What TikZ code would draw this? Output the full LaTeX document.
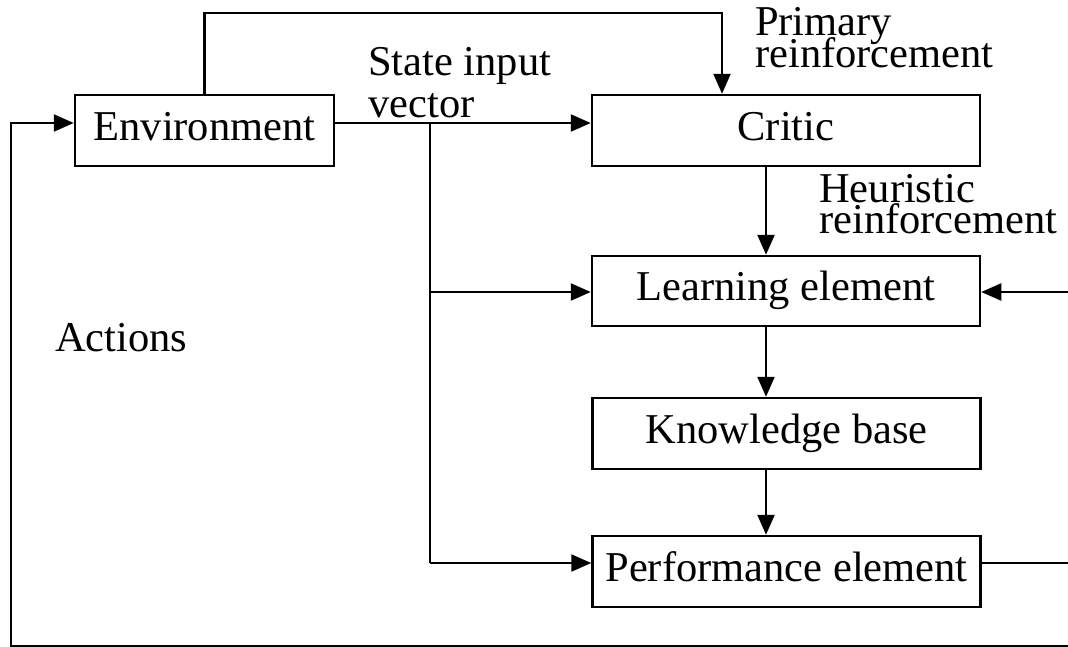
\documentclass[tikz,border=0pt]{standalone}
\usepackage{fontspec}
\setmainfont{Liberation Serif}
\usetikzlibrary{arrows.meta}

% two stacked lines with a fixed baseline distance; the node baseline is the first line
\newcommand\stacklines[3]{\vtop{\baselineskip=#3\lineskiplimit=-\maxdimen\lineskip=0pt\hbox{#1}\hbox{#2}}}

\begin{document}
\begin{tikzpicture}[x=1pt,y=-1pt,
  font=\fontsize{42.5}{51}\selectfont,
  block/.style={draw, line width=2.5pt, minimum width=388pt, minimum height=71pt,
    inner sep=0pt, text height=30pt, text depth=10.5pt},
  flow/.style={line width=2.3pt, -{Triangle[length=20pt,width=17pt]}},
  plain/.style={line width=2.3pt},
  label/.style={inner sep=0pt, anchor=base west}]

\useasboundingbox (0,0) rectangle (1068,646);

% blocks
\node[block, minimum width=259pt] (env)   at (204.5,130.5) {Environment};
\node[block] (critic) at (786,130.5)  {Critic};
\node[block, minimum height=70pt] (learn) at (786,291) {Learning element};
\node[block] (know)   at (786.5,433.5) {Knowledge base};
\node[block] (perf)   at (786.5,571.5) {Performance element};

% routing points
\coordinate (rowA)  at (0,123);
\coordinate (rowB)  at (0,292);
\coordinate (rowC)  at (0,563);
\coordinate (split) at (430,123);
\coordinate (prim)  at (722,13);
\coordinate (hx)    at (766,0);
\coordinate (outR)  at (1090,563);
\coordinate (inR)   at (1090,292);
\coordinate (loopR) at (1090,646);
\coordinate (loopL) at (11,646);

% state input vector
\draw[flow] (env.east |- rowA) -- (critic.west |- rowA);
\draw[plain] (split) -- (split |- rowC);
\draw[flow] (split |- rowB) -- (learn.west |- rowB);
\draw[flow] (split |- rowC) -- (perf.west |- rowC);

% primary reinforcement
\draw[flow] (env.north) |- (prim) -- (prim |- critic.north);

% chain through the learning system
\draw[flow] (critic.south -| hx) -- (learn.north -| hx);
\draw[flow] (learn.south -| hx) -- (know.north -| hx);
\draw[flow] (know.south -| hx) -- (perf.north -| hx);

% external input to the learning element
\draw[flow] (inR) -- (learn.east |- rowB);

% actions fed back to the environment
\draw[flow] (perf.east |- rowC) -- (outR) -- (loopR) -- (loopL) |- (env.west |- rowA);

% labels
\node[label] (lstate) at (368,75)  {\stacklines{State input}{vector}{42pt}};
\node[label] (lprim)  at (755,35)  {\stacklines{Primary}{reinforcement}{32pt}};
\node[label] (lheur)  at (819,202) {\stacklines{Heuristic}{reinforcement}{31pt}};
\node[label] (lact)   at (55,351)  {Actions};

\end{tikzpicture}
\end{document}
